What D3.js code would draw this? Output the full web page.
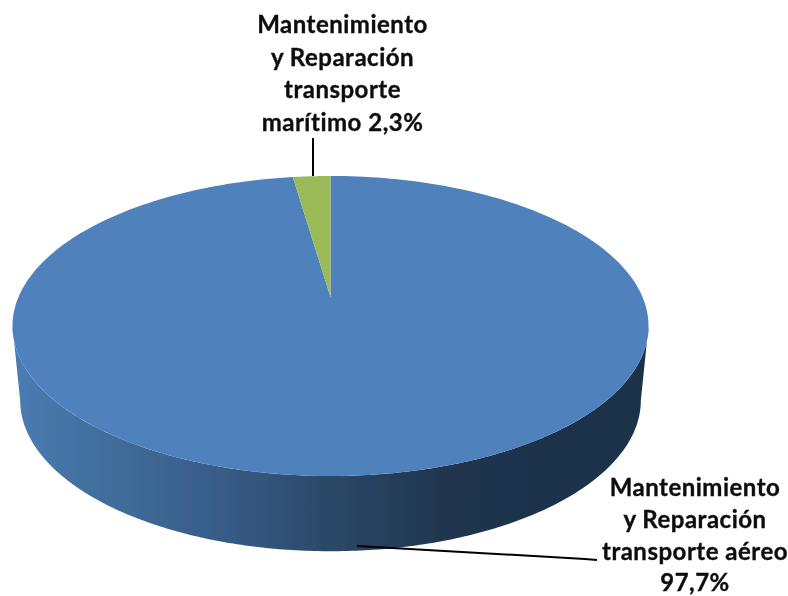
<!DOCTYPE html>
<html><head><meta charset="utf-8">
<script src="https://cdnjs.cloudflare.com/ajax/libs/d3/7.8.5/d3.min.js"></script>
<style>html,body{margin:0;padding:0;background:#fff}svg{display:block}
text{font-family:Lato,"Open Sans",sans-serif;font-weight:700;fill:#0d0d0d;stroke:#0d0d0d;stroke-width:0.35;text-anchor:middle;letter-spacing:0.5px}</style>
</head><body><svg id="c" width="788" height="596"></svg>
<script>
const categories = ["Mantenimiento y Reparación transporte aéreo", "Mantenimiento y Reparación transporte marítimo"];
const values = [97.7, 2.3];
const sliceColors = ["#4f81bd", "#9bbb59"];
const labelLines = [
  ["Mantenimiento", "y Reparación", "transporte aéreo", "97,7%"],
  ["Mantenimiento", "y Reparación", "transporte", "marítimo 2,3%"]
];
const labelBaselines = [[496, 527.5, 559.5, 590.5], [33, 65.5, 98, 131]];
const labelCenters = [695, 342.5];
const leaders = [
  [[357, 546], [585, 559], [597, 560]],
  [[313, 138], [313, 176]]
];

const svg = d3.select("#c");
const defs = svg.append("defs");
const blur = defs.append("filter").attr("id","soft");
blur.append("feGaussianBlur").attr("stdDeviation",0.45);

// perspective disc: unit circle -> tilted ellipse
const k = -0.1933;
function project(angle, cfg){
  const x = Math.sin(angle), y = -Math.cos(angle), d = 1 + k*y;
  return [cfg.cx + cfg.bx*x/d, cfg.cy + cfg.by*y/d];
}
const topDisc = {cx:330.5, cy:297, bx:312, by:144.4};
const botDisc = {cx:330.5, cy:371, bx:304.5, by:145.4};

const arcs = d3.pie().sort(null)(values);
const line = d3.line();
const sample = (a0,a1,n=240)=>d3.range(n+1).map(i=>a0+(a1-a0)*i/n);

// side wall (front of the large slice)
const grad = defs.append("linearGradient").attr("id","wall")
  .attr("gradientUnits","userSpaceOnUse").attr("x1",13).attr("x2",648).attr("y1",0).attr("y2",0);
[[0,"#4b7cb3"],[0.12,"#42709f"],[0.3,"#395f8c"],[0.5,"#2b4867"],[0.68,"#20354f"],[1,"#1c3049"]]
  .forEach(([o,c])=>grad.append("stop").attr("offset",o).attr("stop-color",c));

const g = svg.append("g").attr("filter","url(#soft)");
const right = Math.PI/2 + Math.asin(0.1933), left = 2*Math.PI - right;
const frontTop = sample(right,left).map(a=>project(a,topDisc));
const frontBot = sample(right,left).map(a=>project(a,botDisc));
g.append("path").attr("d", line(frontTop.concat(frontBot.reverse()))+"Z").attr("fill","url(#wall)");

// top face
arcs.forEach((s,i)=>{
  const apex=[topDisc.cx,topDisc.cy];
  const pts=[apex].concat(sample(s.startAngle,s.endAngle).map(a=>project(a,topDisc)));
  g.append("path").attr("d",line(pts)+"Z").attr("fill",sliceColors[i]);
});

// leaders
leaders.forEach(l=>svg.append("path").attr("d",line(l)).attr("fill","none").attr("stroke","#000").attr("stroke-width",2));

// labels
labelLines.forEach((ls,i)=>{
  const t=svg.append("text").attr("font-size",24).attr("filter","url(#soft)");
  ls.forEach((s,j)=>t.append("tspan").attr("x",labelCenters[i]).attr("y",labelBaselines[i][j]).text(s));
});
</script></body></html>
